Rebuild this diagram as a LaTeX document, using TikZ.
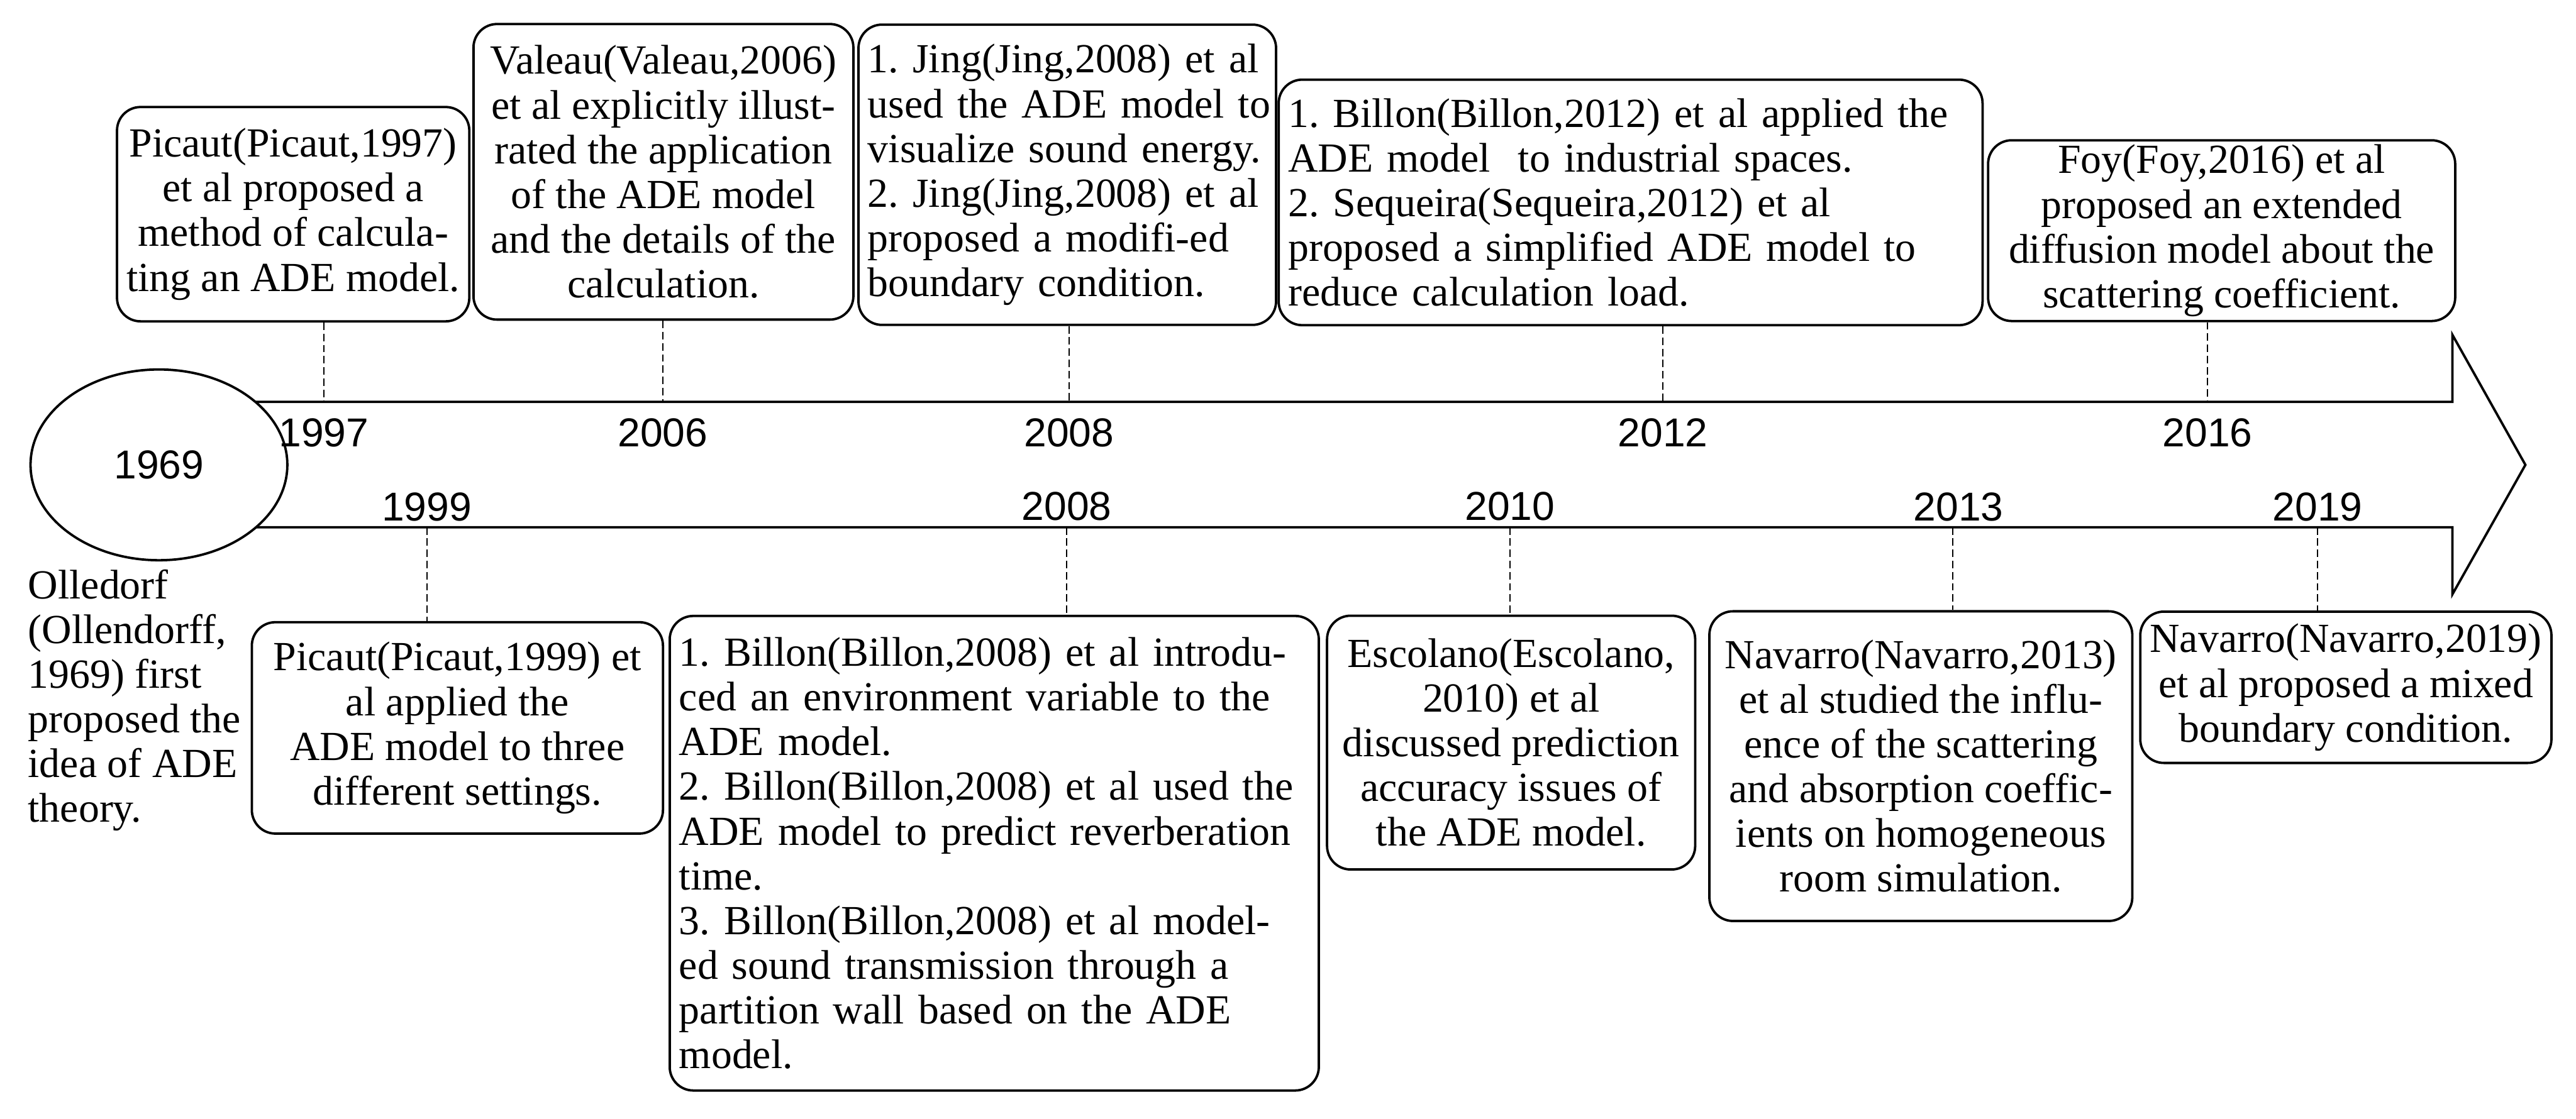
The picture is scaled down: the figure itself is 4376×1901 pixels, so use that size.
\documentclass[tikz,border=0pt]{standalone}
\usepackage{fontspec}
\setmainfont{Liberation Serif}
\newfontfamily\yrfont{Liberation Sans}
\usetikzlibrary{shapes.geometric}
\newcommand{\txsize}{\frenchspacing\fontsize{20.0}{21.6}\selectfont}
\newcommand{\yrsize}{\yrfont\fontsize{19.5}{21}\selectfont}
\begin{document}
\begin{tikzpicture}[x=0.01cm,y=-0.01cm,
  tbox/.style={draw, line width=1.15pt, rounded corners=0.4cm, inner xsep=0.16cm, inner ysep=0pt, font=\txsize},
  cbox/.style={tbox, align=center},
  lbox/.style={tbox, align=left},
  yr/.style={font=\yrsize, inner sep=0pt},
  tick/.style={line width=0.65pt, dash pattern=on 3.6pt off 1.8pt},
  axis/.style={line width=1.15pt, line join=miter}
]
\fill[white] (0,0) rectangle (4376,1901);
\useasboundingbox (0,0) rectangle (4376,1901);

% start ellipse
\node[draw, ellipse, line width=1.15pt, minimum width=4.36cm, minimum height=3.24cm, inner sep=0pt, font=\yrsize] (e1969) at (270,790) {1969};

% timeline arrow
\coordinate (a1) at (435,683);
\coordinate (a2) at (435,896);
\draw[axis] (a1) -- (4166,683) -- (4166,569) -- (4290,790) -- (4166,1010) -- (4166,896) -- (a2);

% upper boxes
\node[cbox, minimum width=5.98cm, minimum height=3.64cm] (b1997) at (498,364)
  {Picaut(Picaut,1997)\\et al proposed a\\method of calcula-\\ting an ADE model.};
\node[cbox, minimum width=6.45cm, minimum height=5.02cm] (b2006) at (1127,292)
  {Valeau(Valeau,2006)\\et al explicitly illust-\\rated the application\\of the ADE model\\and the details of the\\calculation.};
\node[lbox, text width=6.77cm, minimum height=5.10cm] (b2008t) at (1813,297)
  {\mbox{1. Jing(Jing,2008) et al}\\\mbox{used the ADE model to}\\\mbox{visualize sound energy.}\\\mbox{2. Jing(Jing,2008) et al}\\\mbox{proposed a modifi-ed}\\\mbox{boundary condition.}};
\node[lbox, text width=11.63cm, minimum height=4.17cm] (b2012) at (2770,344)
  {\mbox{1. Billon(Billon,2012) et al applied the}\\\mbox{ADE model~ to industrial spaces.}\\\mbox{2. Sequeira(Sequeira,2012) et al}\\\mbox{proposed a simplified ADE model to}\\\mbox{reduce calculation load.}};
\node[cbox, minimum width=7.93cm, minimum height=3.07cm] (b2016) at (3774,392)
  {Foy(Foy,2016) et al\\proposed an extended\\diffusion model about the\\scattering coefficient.};

% lower boxes
\node[anchor=north west, inner sep=0pt, align=left, font=\txsize] (olle) at (47,967)
  {Olledorf\\(Ollendorff,\\1969) first\\proposed the\\idea of ADE\\theory.};
\node[cbox, minimum width=6.98cm, minimum height=3.59cm] (b1999) at (777,1237)
  {Picaut(Picaut,1999) et\\al applied the\\ADE model to three\\different settings.};
\node[lbox, text width=10.70cm, minimum height=8.06cm] (b2008b) at (1689,1450)
  {\mbox{1. Billon(Billon,2008) et al introdu-}\\\mbox{ced an environment variable to the}\\\mbox{ADE model.}\\\mbox{2. Billon(Billon,2008) et al used the}\\\mbox{ADE model to predict reverberation}\\\mbox{time.}\\\mbox{3. Billon(Billon,2008) et al model-}\\\mbox{ed sound transmission through a}\\\mbox{partition wall based on the ADE}\\\mbox{model.}};
\node[cbox, minimum width=6.25cm, minimum height=4.31cm] (b2010) at (2567,1262)
  {Escolano(Escolano,\\2010) et al\\discussed prediction\\accuracy issues of\\the ADE model.};
\node[cbox, minimum width=7.18cm, minimum height=5.26cm] (b2013) at (3263,1302)
  {Navarro(Navarro,2013)\\et al studied the influ-\\ence of the scattering\\and absorption coeffic-\\ients on homogeneous\\room simulation.};
\node[cbox, minimum width=6.98cm, minimum height=2.57cm] (b2019) at (3985,1168)
  {Navarro(Navarro,2019)\\et al proposed a mixed\\boundary condition.};

% year labels
\node[yr] (y1997) at (550,735) {1997};
\node[yr] (y2006) at (1126,735) {2006};
\node[yr] (y2008t) at (1816,735) {2008};
\node[yr] (y2012) at (2825,735) {2012};
\node[yr] (y2016) at (3750,735) {2016};
\node[yr] (y1999) at (725,862) {1999};
\node[yr] (y2008b) at (1812,860) {2008};
\node[yr] (y2010) at (2565,860) {2010};
\node[yr] (y2013) at (3327,861) {2013};
\node[yr] (y2019) at (3937,861) {2019};

% ticks on the timeline
\coordinate (t1997) at (550,683);
\coordinate (t2006) at (1126,683);
\coordinate (t2008t) at (1816,683);
\coordinate (t2012) at (2825,683);
\coordinate (t2016) at (3750,683);
\coordinate (t1999) at (725,896);
\coordinate (t2008b) at (1812,896);
\coordinate (t2010) at (2565,896);
\coordinate (t2013) at (3317,896);
\coordinate (t2019) at (3937,896);

\draw[tick] (b1997.south -| t1997) -- (t1997);
\draw[tick] (b2006.south -| t2006) -- (t2006);
\draw[tick] (b2008t.south -| t2008t) -- (t2008t);
\draw[tick] (b2012.south -| t2012) -- (t2012);
\draw[tick] (b2016.south -| t2016) -- (t2016);
\draw[tick] (t1999) -- (b1999.north -| t1999);
\draw[tick] (t2008b) -- (b2008b.north -| t2008b);
\draw[tick] (t2010) -- (b2010.north -| t2010);
\draw[tick] (t2013) -- (b2013.north -| t2013);
\draw[tick] (t2019) -- (b2019.north -| t2019);
\end{tikzpicture}
\end{document}
